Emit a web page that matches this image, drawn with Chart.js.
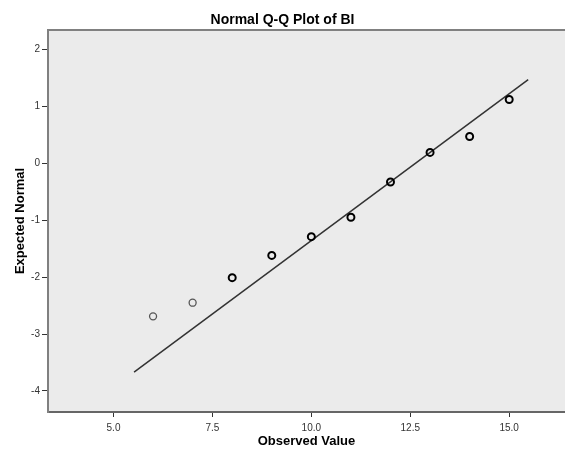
<!DOCTYPE html>
<html>
<head>
<meta charset="utf-8">
<script src="https://cdn.jsdelivr.net/npm/chart.js@4/dist/chart.umd.min.js"></script>
<style>
  body { margin: 0; background: #fff; }
  canvas { display: block; }
</style>
</head>
<body>
<canvas id="qq" width="565" height="453"></canvas>
<script>
const observed = [6, 7, 8, 9, 10, 11, 12, 13, 14, 15]
const expectedNormal = [-2.69, -2.45, -2.01, -1.62, -1.29, -0.95, -0.33, 0.19, 0.47, 1.12]
const fitX = [5.52, 15.48]
const fitY = [-3.67, 1.47]
const xTicks = [5, 7.5, 10, 12.5, 15]
const yTicks = [2, 1, 0, -1, -2, -3, -4]

const plotBackground = {
  id: 'plotBackground',
  beforeDraw(chart) {
    const { ctx, chartArea: a } = chart
    ctx.save()
    ctx.fillStyle = '#ebebeb'
    ctx.fillRect(a.left, a.top, a.right - a.left, a.bottom - a.top)
    ctx.restore()
  },
  afterDraw(chart) {
    const { ctx, chartArea: a } = chart
    ctx.save()
    ctx.strokeStyle = '#808080'
    ctx.lineWidth = 2
    ctx.beginPath()
    ctx.moveTo(a.left - 1, a.top)
    ctx.lineTo(a.right, a.top)
    ctx.stroke()
    ctx.restore()
  }
}

new Chart(document.getElementById('qq'), {
  type: 'scatter',
  data: {
    datasets: [{
      data: observed.map((x, i) => ({ x: x, y: expectedNormal[i] })),
      backgroundColor: 'rgba(0,0,0,0)',
      pointBorderColor: observed.map((x, i) => i < 2 ? '#555' : '#000'),
      pointBorderWidth: observed.map((x, i) => i < 2 ? 1.3 : 2),
      pointRadius: 3.5,
      order: 1
    }, {
      data: fitX.map((x, i) => ({ x: x, y: fitY[i] })),
      showLine: true,
      borderColor: '#333',
      borderWidth: 1.5,
      pointRadius: 0,
      order: 2
    }]
  },
  options: {
    responsive: false,
    animation: false,
    layout: { padding: 0, autoPadding: false },
    plugins: {
      legend: { display: false },
      tooltip: { enabled: false },
      title: {
        display: true,
        text: 'Normal Q-Q Plot of BI',
        color: '#000',
        font: { family: 'Liberation Sans, Arial, sans-serif', size: 14, weight: 'bold' },
        padding: { top: 11.4, bottom: 1.8 }
      }
    },
    scales: {
      x: {
        type: 'linear',
        min: 3.345,
        max: 16.41,
        afterBuildTicks: s => { s.ticks = xTicks.map(v => ({ value: v })) },
        afterFit: s => {
          s.height = 41
          s.paddingLeft = 0
          s.paddingRight = 0
        },
        grid: { drawOnChartArea: false, tickLength: 5, color: '#333' },
        border: { display: true, color: '#666', width: 2 },
        ticks: {
          padding: 5,
          color: '#333',
          font: { family: 'Liberation Sans, Arial, sans-serif', size: 10 },
          callback: v => v.toFixed(1)
        },
        title: {
          display: true,
          text: 'Observed Value',
          color: '#000',
          font: { family: 'Liberation Sans, Arial, sans-serif', size: 13, weight: 'bold' },
          padding: { top: 0, bottom: 4.2 }
        }
      },
      y: {
        type: 'linear',
        min: -4.37,
        max: 2.34,
        afterBuildTicks: s => { s.ticks = yTicks.map(v => ({ value: v })) },
        afterFit: s => {
          s.width = 48
          s.paddingTop = 0
          s.paddingBottom = 0
        },
        grid: { drawOnChartArea: false, tickLength: 6, color: '#333' },
        border: { display: true, color: '#808080', width: 2 },
        ticks: {
          padding: 2,
          color: '#333',
          font: { family: 'Liberation Sans, Arial, sans-serif', size: 10 },
          callback: v => String(v)
        },
        title: {
          display: true,
          text: 'Expected Normal',
          color: '#000',
          font: { family: 'Liberation Sans, Arial, sans-serif', size: 13, weight: 'bold' },
          padding: { top: 12.2, bottom: 0 }
        }
      }
    }
  },
  plugins: [plotBackground]
})
</script>
</body>
</html>
